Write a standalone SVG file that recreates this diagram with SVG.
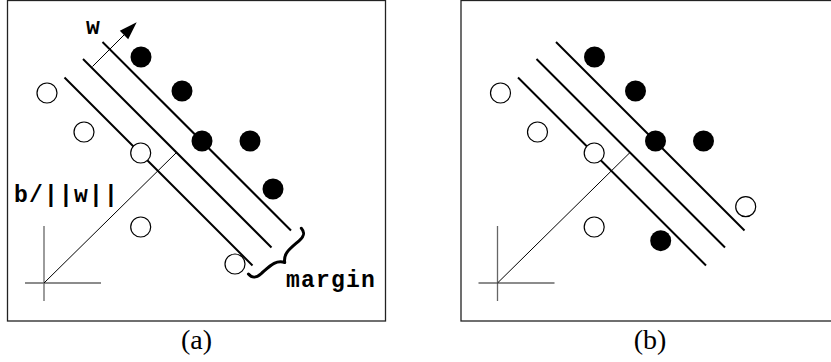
<svg xmlns="http://www.w3.org/2000/svg" width="831" height="362" viewBox="0 0 831 362">
<style>
.frame{fill:#fff;stroke:#222;stroke-width:1.3}
.axis{stroke:#666;stroke-width:1.3;fill:none}
.thin{stroke:#000;stroke-width:1;fill:none}
.hp{stroke:#000;stroke-width:2;fill:none}
.open{fill:#fff;stroke:#000;stroke-width:1.2}
.dot{fill:#000}
.lbl{font-family:"Liberation Mono","DejaVu Sans Mono",monospace;font-weight:bold;font-size:23px;letter-spacing:1.2px;fill:#000}
.cap{font-family:"Liberation Serif","DejaVu Serif",serif;font-size:28px;fill:#000;text-anchor:middle}
</style>
<rect width="831" height="362" fill="#fff"/>
<g id="panel-a">
  <rect class="frame" x="7.5" y="0.5" width="378" height="320.5"/>
  <g id="axes-a">
    <line class="axis" x1="25" y1="283" x2="101" y2="283"/>
    <line class="axis" x1="44" y1="226" x2="44" y2="301"/>
  </g>
  <g id="connectors-a">
    <line class="thin" x1="44" y1="283" x2="176.5" y2="152.5"/>
    <line class="hp" x1="64.5" y1="77.5" x2="252.5" y2="265.5"/>
    <line class="hp" x1="83" y1="59" x2="271.5" y2="247.5"/>
    <line class="hp" x1="102.5" y1="42" x2="291" y2="230.5"/>
    <line class="thin" x1="92.5" y1="66.5" x2="125" y2="34"/>
    <polygon points="136.7,22.3 128.2,39.2 119.8,30.8" fill="#000"/>
  </g>
  <g id="points-a">
    <circle class="open" cx="47" cy="93" r="10"/>
    <circle class="open" cx="84" cy="132" r="10"/>
    <circle class="open" cx="140.7" cy="153" r="10"/>
    <circle class="open" cx="140.7" cy="227" r="10"/>
    <circle class="open" cx="235" cy="264" r="10"/>
    <circle class="dot" cx="141" cy="57" r="10.5"/>
    <circle class="dot" cx="182" cy="91" r="10.5"/>
    <circle class="dot" cx="202" cy="141" r="10.5"/>
    <circle class="dot" cx="250" cy="141" r="10.5"/>
    <circle class="dot" cx="273" cy="189" r="10.5"/>
  </g>
  <g id="brace">
    <path transform="translate(302,229) rotate(139.1)" d="M0,1 C0,-5 3,-7 10,-7 C22,-7 30,-6 35,-14 C40,-6 48,-7 60,-7 C67,-7 70,-5 70,1" fill="none" stroke="#000" stroke-width="3" stroke-linecap="round" stroke-linejoin="round"/>
  </g>
  <text class="lbl" x="86" y="34">w</text>
  <text class="lbl" x="14" y="202">b/||w||</text>
  <text class="lbl" x="286" y="286.5">margin</text>
  <text class="cap" x="196.5" y="349">(a)</text>
</g>
<g id="panel-b">
  <rect class="frame" x="461" y="0.5" width="378" height="320.5"/>
  <g transform="translate(453.5,0)">
    <g id="axes-b">
      <line class="axis" x1="25" y1="283" x2="101" y2="283"/>
      <line class="axis" x1="44" y1="226" x2="44" y2="301"/>
    </g>
    <g id="connectors-b">
      <line class="thin" x1="44" y1="283" x2="176.5" y2="152.5"/>
      <line class="hp" x1="64.5" y1="77.5" x2="252.5" y2="265.5"/>
      <line class="hp" x1="83" y1="59" x2="271.5" y2="247.5"/>
      <line class="hp" x1="102.5" y1="42" x2="291" y2="230.5"/>
    </g>
    <g id="points-b">
      <circle class="open" cx="47" cy="93" r="10"/>
      <circle class="open" cx="84" cy="132" r="10"/>
      <circle class="open" cx="140.7" cy="153" r="10"/>
      <circle class="open" cx="140.7" cy="227" r="10"/>
      <circle class="open" cx="292.2" cy="206.7" r="10"/>
      <circle class="dot" cx="141" cy="57" r="10.5"/>
      <circle class="dot" cx="182" cy="91" r="10.5"/>
      <circle class="dot" cx="202" cy="141" r="10.5"/>
      <circle class="dot" cx="250" cy="141" r="10.5"/>
      <circle class="dot" cx="207.2" cy="240.7" r="10.5"/>
    </g>
  </g>
  <text class="cap" x="650" y="349">(b)</text>
</g>
</svg>
